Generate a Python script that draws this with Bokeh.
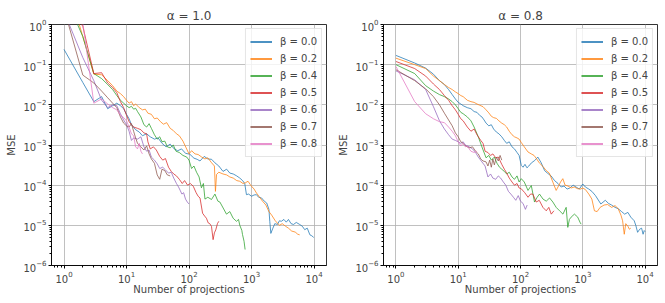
from bokeh.plotting import figure
from bokeh.layouts import row
from bokeh.models import Legend, LegendItem, FixedTicker, Range1d
from bokeh.embed import file_html
from bokeh.resources import INLINE

# ---------------- data: (number of projections, MSE) ----------------
titles = ["α = 1.0", "α = 0.8"]
beta_labels = ["β = 0.0", "β = 0.2", "β = 0.4", "β = 0.5", "β = 0.6", "β = 0.7", "β = 0.8"]
colors = ["#1f77b4", "#ff7f0e", "#2ca02c", "#d62728", "#9467bd", "#8c564b", "#e377c2"]

a1_b00 = [(1,0.24),(2,0.036),(3,0.012),(4,0.016),(5,0.008),(6,0.0095),(7,0.011),(8,0.0095),(9,0.008),(10,0.0058),(11,0.0045),(12,0.0032),(14,0.0024),(16,0.0021),(18,0.0017),(21,0.0019),(24,0.0016),(28,0.0014),(32,0.0015),(37,0.0011),(43,0.0009),(50,0.00105),(58,0.0008),(66,0.00072),(76,0.0008),(88,0.00062),(103,0.00059),(120,0.00047),(135,0.00044),(150,0.0004),(175,0.00052),(200,0.00045),(230,0.00044),(260,0.00036),(300,0.0003),(350,0.00022),(400,0.00025),(450,0.0002),(510,0.00019),(580,0.00017),(650,0.00015),(720,0.00013),(780,0.00011),(830,0.000058),(900,0.00006),(1000,0.000053),(1100,0.000057),(1200,0.000058),(1300,0.00005),(1450,0.000048),(1600,0.00004),(1750,0.000036),(1900,0.000025),(1960,0.0000126),(2040,0.0000063),(2200,0.0000085),(2360,0.000011),(2600,0.0000105),(2800,0.000013),(3000,0.0000126),(3300,0.000014),(3600,0.000012),(3900,0.000014),(4300,0.000011),(4700,0.0000105),(5200,0.0000118),(5900,0.0000105),(6500,0.0000095),(7100,0.0000078),(7800,0.0000085),(8600,0.0000058),(9200,0.0000055),(9900,0.000005)]
a1_b02 = [(1,20),(2,0.5),(3,0.058),(4,0.056),(5,0.04),(6,0.03),(7,0.022),(8,0.019),(9,0.016),(10,0.013),(11,0.011),(12,0.012),(13,0.0095),(14,0.0105),(16,0.0085),(18,0.0075),(20,0.0078),(22,0.0062),(25,0.0058),(28,0.0045),(31,0.0047),(35,0.0038),(39,0.0033),(44,0.0036),(50,0.0026),(56,0.0023),(63,0.0019),(70,0.0017),(80,0.00125),(90,0.00085),(100,0.0006),(110,0.00072),(125,0.0006),(140,0.00058),(160,0.0005),(180,0.00045),(200,0.00048),(230,0.00036),(255,0.0003),(265,0.00007),(276,0.000185),(300,0.00021),(350,0.00019),(400,0.00018),(450,0.00016),(510,0.00015),(580,0.00013),(650,0.000125),(730,0.00011),(800,0.000115),(880,0.000125),(950,0.000105),(1000,0.000094),(1100,0.00008),(1200,0.000064),(1350,0.00005),(1500,0.00004),(1700,0.000032),(1900,0.000022),(2100,0.000018),(2400,0.000013),(2800,0.00001),(3100,0.000011),(3500,0.0000095),(3900,0.0000085),(4400,0.0000072),(5000,0.0000068),(5500,0.000006),(5900,0.0000058)]
a1_b04 = [(1,6),(2,0.5),(3,0.06),(4,0.045),(5,0.032),(6,0.024),(7,0.017),(8,0.013),(9,0.011),(10,0.0095),(11,0.0085),(12,0.0092),(13,0.0078),(14,0.0082),(15,0.0068),(17,0.005),(19,0.0032),(21,0.0028),(23,0.0034),(25,0.0026),(28,0.0018),(31,0.0014),(34,0.0016),(37,0.0012),(41,0.00125),(45,0.0009),(50,0.00085),(56,0.001),(62,0.0007),(70,0.00065),(80,0.00055),(92,0.0005),(100,0.00042),(110,0.00026),(120,0.0003),(132,0.00021),(145,0.00016),(158,0.000086),(170,0.00011),(180,0.000045),(200,0.00005),(229,0.000044),(260,0.00006),(290,0.00004),(312,0.000038),(352,0.000027),(398,0.000019),(450,0.000022),(509,0.000015),(575,0.0000126),(620,0.000014),(650,0.00001),(700,0.0000075),(718,0.0000059),(760,0.000004),(790,0.0000025)]
a1_b05 = [(1,5),(2,0.9),(3,0.06),(4,0.063),(5,0.035),(6,0.027),(7,0.02),(8,0.012),(9,0.0085),(10,0.0055),(11,0.0038),(12,0.0032),(13,0.0028),(15,0.0026),(17,0.0024),(19,0.002),(21,0.0019),(22,0.0012),(24,0.0008),(27,0.0009),(30,0.00075),(34,0.00052),(38,0.00042),(42,0.00046),(47,0.00028),(52,0.00022),(57,0.00019),(63,0.00017),(70,0.00014),(78,0.00011),(85,0.00013),(95,0.0001),(105,0.00011),(117,0.000094),(130,0.000065),(140,0.000053),(150,0.000048),(165,0.00002),(178,0.000017),(190,0.000015),(203,0.0000115),(215,0.000011),(229,0.0000094),(243,0.0000044),(255,0.0000065),(268,0.0000077),(285,0.000011),(300,0.0000126)]
a1_b06 = [(1,2.1),(2,0.15),(3,0.04),(4,0.013),(5,0.0085),(6,0.01),(7,0.0095),(8,0.006),(9,0.0042),(10,0.0032),(11,0.0022),(12,0.0013),(13,0.0015),(15,0.0014),(17,0.0016),(19,0.0009),(21,0.0007),(23,0.00075),(25,0.0005),(28,0.00042),(31,0.00034),(34,0.00026),(38,0.00028),(42,0.00024),(47,0.0002),(52,0.00021),(57,0.00015),(63,0.00011),(68,0.00009),(72,0.000075),(77,0.00006),(82,0.000065),(88,0.000045),(94,0.000038),(100,0.000034)]
a1_b07 = [(1,2.5),(2,0.055),(3,0.035),(4,0.022),(5,0.015),(6,0.011),(7,0.0085),(8,0.005),(9,0.0035),(10,0.003),(11,0.0028),(12,0.0034),(13,0.0022),(14,0.0015),(15,0.0011),(17,0.0009),(19,0.00075),(21,0.00095),(23,0.0006),(25,0.00045),(28,0.00035),(31,0.00018),(34,0.00014),(37,0.00025),(41,0.00023),(45,0.00018),(50,0.00017)]
a1_b08 = [(1,5),(2,1.1),(3,0.011),(4,0.014),(5,0.0105),(6,0.0085),(7,0.0075),(8,0.0055),(9,0.0048),(10,0.004),(11,0.0028),(12,0.0019),(13,0.0017),(14,0.0009),(15,0.0008),(16,0.0011),(17,0.0007),(18,0.0006)]

a2_b00 = [(1,0.17),(2,0.11),(3,0.082),(4,0.058),(5,0.04),(6,0.032),(7,0.024),(8,0.018),(9,0.014),(10,0.0115),(11,0.0105),(12,0.0095),(14,0.0085),(16,0.008),(18,0.0068),(20,0.0065),(22,0.0055),(24,0.005),(26,0.0042),(28,0.0035),(31,0.003),(34,0.0032),(37,0.0025),(41,0.0021),(45,0.0019),(50,0.0016),(55,0.0013),(60,0.0011),(66,0.0012),(73,0.0009),(80,0.0008),(88,0.00065),(95,0.00055),(103,0.00031),(110,0.00028),(118,0.00033),(127,0.00027),(136,0.0003),(150,0.00036),(169,0.00041),(190,0.0005),(215,0.00036),(244,0.00023),(270,0.0002),(310,0.00017),(352,0.00013),(400,0.00011),(450,0.00009),(500,0.000095),(560,0.00008),(620,0.000085),(700,0.0001),(780,0.00009),(880,0.00008),(1000,0.000107),(1100,0.00009),(1250,0.00008),(1400,0.00007),(1600,0.000055),(1950,0.000034),(2300,0.000042),(2600,0.000035),(2900,0.000032),(3300,0.000028),(3700,0.000026),(4200,0.000022),(4700,0.000019),(5300,0.000021),(5900,0.000016),(6700,0.000013),(7100,0.00001),(7600,0.0000067),(8200,0.000008),(8800,0.0000085),(9300,0.000006),(9700,0.0000074),(10000,0.000007)]
a2_b02 = [(1,0.145),(2,0.1),(3,0.08),(4,0.052),(5,0.04),(6,0.032),(7,0.027),(8,0.024),(9,0.021),(10,0.019),(11,0.017),(12,0.016),(14,0.013),(16,0.012),(18,0.0115),(20,0.0105),(22,0.0098),(25,0.009),(28,0.0075),(31,0.0063),(34,0.0052),(37,0.0048),(41,0.0046),(45,0.004),(50,0.0035),(55,0.0032),(60,0.0028),(66,0.0022),(73,0.0018),(80,0.0016),(88,0.0015),(95,0.0014),(103,0.00115),(115,0.0009),(132,0.00067),(149,0.0006),(165,0.00055),(180,0.00046),(200,0.00036),(230,0.00029),(259,0.00023),(290,0.0002),(331,0.000119),(355,0.00009),(374,0.000074),(400,0.00009),(440,0.00012),(478,0.000145),(520,0.0001),(580,0.000095),(650,0.000085),(730,0.00009),(820,0.000082),(920,0.00008),(1000,0.000085),(1100,0.000078),(1250,0.00006),(1400,0.000045),(1540,0.000023),(1700,0.000022),(1900,0.000028),(2200,0.000032),(2500,0.000033),(2900,0.000028),(3300,0.000031),(3700,0.000026),(4100,0.000018),(4360,0.000013),(4640,0.000006),(4900,0.000011),(5300,0.0000095),(5600,0.000008),(5900,0.0000085)]
a2_b04 = [(1,0.1),(2,0.06),(3,0.03),(4,0.022),(5,0.018),(6,0.016),(7,0.014),(8,0.012),(9,0.01),(10,0.008),(11,0.0065),(12,0.006),(14,0.005),(16,0.004),(18,0.0028),(21,0.0016),(24,0.0009),(28,0.00048),(31,0.00055),(34,0.00042),(38,0.0005),(42,0.00035),(46,0.00028),(50,0.00025),(55,0.00022),(60,0.00019),(66,0.00021),(73,0.00016),(80,0.00014),(88,0.00017),(95,0.00012),(103,0.000145),(115,0.00012),(132,0.000074),(149,0.000098),(168,0.000038),(185,0.00005),(202,0.00006),(230,0.000045),(259,0.00004),(293,0.000048),(331,0.000038),(374,0.000028),(424,0.000023),(480,0.000019),(541,0.000028),(575,0.0000089),(610,0.000014),(650,0.000016),(735,0.000019),(830,0.000016),(900,0.000012),(940,0.0000107)]
a2_b05 = [(1,0.12),(2,0.08),(3,0.052),(4,0.033),(5,0.024),(6,0.017),(7,0.013),(8,0.0095),(9,0.0075),(10,0.0058),(11,0.0045),(12,0.004),(14,0.0028),(16,0.0022),(18,0.0025),(20,0.0018),(23,0.0013),(25,0.0011),(27,0.0007),(30,0.00065),(33,0.00055),(36,0.0006),(40,0.00048),(44,0.0005),(50,0.00033),(55,0.00025),(60,0.0002),(66,0.00015),(73,0.00012),(80,0.0001),(88,0.00011),(95,0.000085),(103,0.000081),(117,0.000065),(132,0.00005),(145,0.00006),(158,0.00006),(179,0.000038),(200,0.000042),(229,0.000028),(259,0.000023),(285,0.000028),(312,0.000019),(344,0.000023)]
a2_b06 = [(1,0.07),(2,0.042),(3,0.024),(4,0.009),(5,0.004),(6,0.0025),(7,0.0018),(8,0.0014),(9,0.0013),(10,0.0012),(11,0.0011),(12,0.0012),(13,0.001),(15,0.0009),(17,0.0008),(19,0.00065),(21,0.0005),(24,0.00038),(27,0.0003),(30,0.00016),(33,0.00019),(36,0.00015),(40,0.00014),(44,0.00017),(48,0.00015),(53,0.00012),(58,0.0001),(64,0.00007),(70,0.00006),(77,0.00005),(84,0.000042),(92,0.000055),(100,0.00004),(110,0.000035),(120,0.000025),(128,0.000032)]
a2_b07 = [(1,0.075),(2,0.04),(3,0.025),(4,0.016),(5,0.01),(6,0.0062),(7,0.0042),(8,0.003),(9,0.002),(10,0.0016),(11,0.0012),(12,0.0011),(13,0.00095),(15,0.00085),(17,0.0009),(19,0.0007),(21,0.0006),(23,0.00045),(25,0.0004),(28,0.00038),(30,0.0003),(32,0.00042),(34,0.00028),(36,0.00045),(38,0.00032),(41,0.0005),(44,0.0004),(47,0.00055),(50,0.00042)]
a2_b08 = [(1,0.09),(2,0.012),(3,0.006),(4,0.0045),(5,0.0038),(6,0.0036),(7,0.0028),(8,0.0022),(9,0.0017),(10,0.0012),(11,0.00095),(12,0.0011),(13,0.0009),(14,0.00095),(15,0.0008),(16,0.0007),(18,0.00065),(20,0.0007)]

panels = [
    [a1_b00, a1_b02, a1_b04, a1_b05, a1_b06, a1_b07, a1_b08],
    [a2_b00, a2_b02, a2_b04, a2_b05, a2_b06, a2_b07, a2_b08],
]

x_major = [1, 10, 100, 1000, 10000]
y_major = [1e-6, 1e-5, 1e-4, 1e-3, 1e-2, 1e-1, 1]
FONT = "DejaVu Sans"


def minor_for(majors):
    out = []
    for m in majors:
        for k in range(2, 10):
            out.append(m * k)
    return out


def make_panel(title, series, width, left, right):
    p = figure(width=width, height=303, x_axis_type="log", y_axis_type="log",
               x_range=Range1d(10 ** -0.2, 10 ** 4.2), y_range=Range1d(1e-6, 1),
               output_backend="svg", toolbar_location=None,
               min_border_left=left, min_border_right=right,
               min_border_top=24, min_border_bottom=38)
    p.title.text = title
    p.title.align = "center"
    p.title.text_font = FONT
    p.title.text_font_size = "12px"
    p.title.text_font_style = "normal"
    p.title.standoff = 3
    p.title.offset = 0

    p.xaxis.ticker = FixedTicker(ticks=x_major, minor_ticks=minor_for([0.1] + x_major))
    p.yaxis.ticker = FixedTicker(ticks=y_major, minor_ticks=minor_for([1e-7] + y_major))
    p.xaxis.axis_label = "Number of projections"
    p.yaxis.axis_label = "MSE"
    for ax in (p.xaxis[0], p.yaxis[0]):
        ax.axis_label_text_font = FONT
        ax.axis_label_text_font_size = "10px"
        ax.axis_label_text_font_style = "normal"
        ax.major_label_text_font = FONT
        ax.major_label_text_font_size = "10px"
        ax.major_tick_in = 0
        ax.major_tick_out = 3
        ax.minor_tick_in = 0
        ax.minor_tick_out = 2
        ax.axis_line_color = "black"
        ax.axis_line_width = 0.8
        ax.major_tick_line_color = "black"
        ax.minor_tick_line_color = "black"
    p.xaxis.major_label_standoff = 2
    p.xaxis.axis_label_standoff = -2
    p.yaxis.major_label_standoff = 2
    p.yaxis.axis_label_standoff = 3

    p.grid.grid_line_color = "#b0b0b0"
    p.grid.grid_line_width = 0.8
    p.outline_line_color = "black"
    p.outline_line_width = 0.8
    p.outline_line_alpha = 1

    items = []
    for pts, c, lab in zip(series, colors, beta_labels):
        xs = [a for a, b in pts]
        ys = [b for a, b in pts]
        p.line(xs, ys, line_color=c, line_width=0.9, line_alpha=0.85)
        # one-point line: draws nothing in the plot, only provides a thicker legend glyph
        key = p.line(xs[:1], ys[:1], line_color=c, line_width=1.6)
        items.append(LegendItem(label=lab, renderers=[key]))

    leg = Legend(items=items, location="top_right", margin=4, padding=4, spacing=0,
                 glyph_width=22, glyph_height=17, label_height=17, label_standoff=8,
                 label_text_font=FONT, label_text_font_size="10px",
                 background_fill_alpha=0.8, border_line_color="#cccccc",
                 border_line_width=1)
    p.add_layout(leg)
    return p


p1 = make_panel(titles[0], panels[0], 335, 51, 9)
p2 = make_panel(titles[1], panels[1], 330, 47, 8)
layout = row(p1, p2)

open("out.html", "w").write(file_html(layout, INLINE))
